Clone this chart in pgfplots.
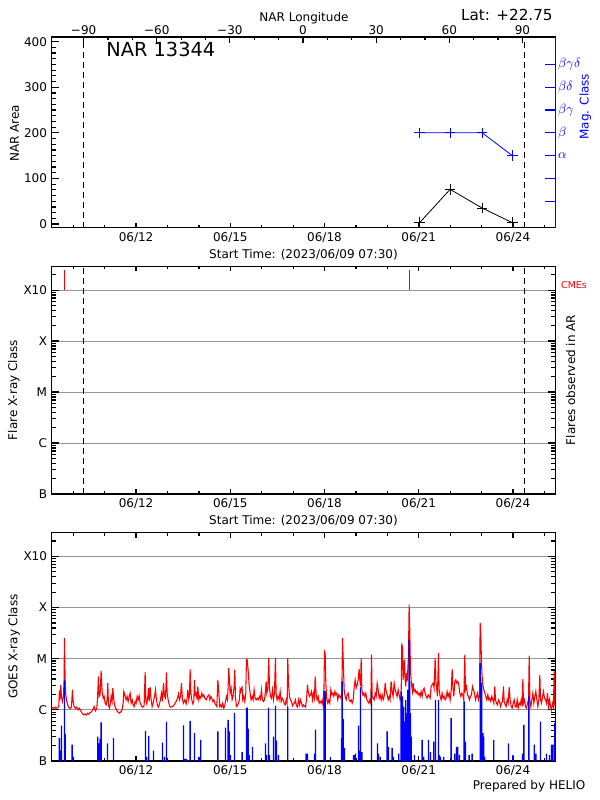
\documentclass[border=0pt]{standalone}
\usepackage{fontspec}
\setmainfont{DejaVu Sans}
\usepackage{pgfplots}
\pgfplotsset{compat=1.18}
\definecolor{gridgray}{RGB}{150,150,150}
\definecolor{pblue}{RGB}{0,0,255}
\definecolor{pred}{RGB}{255,0,0}
\newcommand{\tf}{\fontsize{9}{10.5}\selectfont}
\pgfplotsset{
  dayaxis/.style={
    scale only axis, width=377.7pt, xmin=0.3125, xmax=16.35,
    xtick={3,6,9,12,15}, xticklabels={06/12,06/15,06/18,06/21,06/24},
    minor xtick={1,2,4,5,7,8,10,11,13,14,16},
    tick align=inside,
    major tick length=4.2pt, minor tick length=2.4pt,
    axis line style={black, line width=0.8pt},
    tick style={black, line width=0.9pt},
    xtick style={/pgfplots/major tick length=3.6pt, /pgfplots/minor tick length=2.1pt},
    ytick style={/pgfplots/major tick length=5.4pt, /pgfplots/minor tick length=3.3pt},
    tick label style={font=\tf},
  },
  goesaxis/.style={
    ymin=0.1, ymax=2900,
    ytick={0.1,1,10,100,1000}, yticklabels={B,C,M,X,X10},
    minor ytick={0.2,0.3,0.4,0.5,0.6,0.7,0.8,0.9,2,3,4,5,6,7,8,9,20,30,40,50,60,70,80,90,200,300,400,500,600,700,800,900,2000},
    ymajorgrids, major grid style={gridgray, line width=0.75pt},
  },
}
\begin{document}
\begin{tikzpicture}
\path[use as bounding box] (0pt,0pt) rectangle (450pt,-600pt);

% ---------------- Panel 1 ----------------
\begin{axis}[dayaxis, at={(38.78pt,-170.63pt)}, anchor=south west, height=142.9pt,
  ymin=-7.7, ymax=410.3, ytick={0,100,200,300,400}, yticklabels={0,100,200,300,400},
  minor y tick num=7, xtick pos=bottom, ytick pos=left]
  \addplot[black, line width=0.75pt, dash pattern=on 4.5pt off 3pt] coordinates {(1.32,-7.7) (1.32,410.3)};
  \addplot[black, line width=0.75pt, dash pattern=on 4.5pt off 3pt] coordinates {(15.37,-7.7) (15.37,410.3)};
  \addplot[black, line width=0.6pt, mark=+, mark size=4pt, mark options={line width=0.75pt}] coordinates {(12.03,3) (13.0,76) (14.02,35) (14.98,3)};
\end{axis}
\begin{axis}[scale only axis, width=377.7pt, height=142.9pt, at={(38.78pt,-170.63pt)}, anchor=south west,
  xmin=-103.1, xmax=103.5, ymin=0, ymax=1,
  axis x line*=top, axis y line=none, tick align=inside,
  xtick={-90,-60,-30,0,30,60,90}, xticklabels={−90,−60,−30,0,30,60,90},
  minor x tick num=2, major tick length=4.2pt, minor tick length=2.4pt,
  axis line style={black, line width=0.8pt}, tick style={black, line width=0.9pt},
  xticklabel style={font=\tf, inner sep=2pt, yshift=-0.6pt}]
\end{axis}
\begin{axis}[scale only axis, width=377.7pt, height=142.9pt, at={(38.78pt,-170.63pt)}, anchor=south west,
  xmin=0.3125, xmax=16.35, ymin=-7.7, ymax=410.3,
  axis x line=none, axis y line*=right, tick align=inside,
  ytick={50,100,150,200,250,300,350},
  yticklabels={,,$\alpha$,$\beta$,$\beta\gamma$,$\beta\delta$,$\beta\gamma\delta$},
  major tick length=7.5pt,
  axis line style={pblue, line width=0.8pt}, tick style={pblue, line width=0.9pt},
  yticklabel style={pblue, font=\fontsize{10}{11}\selectfont, inner sep=2pt}]
  \addplot[pblue, line width=0.6pt, mark=+, mark size=4pt, mark options={line width=0.75pt}] coordinates {(12.03,200) (13.0,200) (14.02,200) (14.98,150)};
\end{axis}
\node[anchor=base west, font=\fontsize{14.5}{16}\selectfont] at (76.3pt,-42.5pt) {NAR 13344};
\node[anchor=east, font=\fontsize{11.4}{13}\selectfont] at (418pt,-11.5pt) {Lat: +22.75};
\node[anchor=base, font=\tf] at (228pt,-16.2pt) {NAR Longitude};
\node[rotate=90, font=\tf] at (11pt,-100pt) {NAR Area};
\node[rotate=90, font=\tf, text=pblue] at (439pt,-80pt) {Mag. Class};
\node[font=\tf] at (227.6pt,-191.3pt) {Start Time: (2023/06/09 07:30)};

% ---------------- Panel 2 ----------------
\begin{axis}[ymode=log, dayaxis, goesaxis, at={(38.78pt,-370.5pt)}, anchor=south west, height=170.6pt]
  \addplot[black, line width=0.75pt, dash pattern=on 4.5pt off 3pt] coordinates {(1.32,0.1) (1.32,2900)};
  \addplot[black, line width=0.75pt, dash pattern=on 4.5pt off 3pt] coordinates {(15.37,0.1) (15.37,2900)};
  \addplot[pred, line width=0.75pt] coordinates {(0.717,1000) (0.717,2470)};
  \addplot[pred, line width=0.75pt] coordinates {(11.70,1000) (11.70,2470)};
\end{axis}
\node[rotate=90, font=\tf] at (10.3pt,-292.5pt) {Flare X-ray Class};
\node[rotate=90, font=\tf] at (428pt,-285pt) {Flares observed in AR};
\node[font=\fontsize{7.1}{8}\selectfont, text=pred] at (430.5pt,-214pt) {CMEs};
\node[font=\tf] at (227.6pt,-390.8pt) {Start Time: (2023/06/09 07:30)};

% ---------------- Panel 3 ----------------
\begin{axis}[ymode=log, log origin y=infty, dayaxis, goesaxis, at={(38.78pt,-570.75pt)}, anchor=south west, height=171.2pt]
\addplot[pred, line width=0.8pt] table {
d v
0.325 1.13
0.367 1.06
0.410 1.13
0.452 1.05
0.495 1.11
0.537 1.16
0.558 2.39
0.580 1.57
0.601 3.09
0.622 1.83
0.654 1.46
0.686 1.83
0.707 3.87
0.718 25.4
0.739 4.17
0.760 1.97
0.792 1.46
0.824 1.25
0.856 1.13
0.898 1.06
0.941 1.13
0.973 2.47
0.994 1.46
1.026 1.16
1.068 1.06
1.111 1.13
1.153 1.00
1.196 1.08
1.238 0.96
1.281 0.86
1.323 0.80
1.366 0.83
1.408 0.79
1.451 0.86
1.493 0.82
1.536 0.89
1.578 0.91
1.620 1.00
1.663 1.16
1.705 0.96
1.748 1.08
1.769 1.57
1.801 4.50
1.822 1.83
1.854 1.97
1.886 5.82
1.918 2.29
1.950 1.69
1.982 1.83
2.013 1.35
2.045 1.25
2.077 1.57
2.098 3.33
2.120 1.25
2.151 1.08
2.183 1.35
2.205 1.83
2.236 1.46
2.258 2.66
2.290 1.57
2.321 1.20
2.353 1.08
2.385 0.97
2.428 0.90
2.470 0.86
2.513 0.91
2.555 1.00
2.587 1.35
2.608 2.29
2.640 1.97
2.682 1.57
2.714 1.83
2.746 1.46
2.778 1.83
2.810 2.12
2.842 1.35
2.874 1.57
2.906 1.25
2.937 1.16
2.969 1.46
3.001 1.35
3.033 1.83
3.065 1.57
3.097 1.88
3.129 1.35
3.171 1.20
3.214 1.13
3.256 1.20
3.288 5.48
3.309 1.57
3.341 1.31
3.373 1.83
3.394 2.66
3.415 1.46
3.447 2.78
3.479 1.57
3.511 1.16
3.543 1.35
3.575 1.69
3.596 1.97
3.617 2.47
3.649 1.57
3.681 1.20
3.713 1.13
3.744 1.31
3.776 1.57
3.808 2.12
3.840 1.46
3.872 3.33
3.904 1.83
3.936 1.69
3.967 5.39
3.989 2.12
4.021 1.57
4.063 1.20
4.106 1.13
4.148 1.16
4.191 1.20
4.233 1.31
4.275 1.46
4.318 1.69
4.350 2.06
4.382 1.57
4.414 1.83
4.445 3.33
4.477 1.57
4.509 1.35
4.552 1.57
4.594 1.31
4.626 1.69
4.647 2.47
4.679 1.57
4.700 1.97
4.721 6.27
4.743 2.12
4.775 1.57
4.806 1.31
4.838 1.46
4.859 3.87
4.881 1.97
4.913 2.12
4.944 1.57
4.966 2.87
4.997 1.57
5.029 1.83
5.061 1.69
5.093 2.12
5.125 1.83
5.157 1.97
5.189 1.69
5.231 1.57
5.274 1.83
5.316 1.97
5.348 1.57
5.380 1.83
5.412 1.69
5.444 1.46
5.475 1.57
5.507 1.35
5.539 1.25
5.571 1.16
5.603 3.87
5.665 1.16
5.696 1.25
5.728 1.13
5.760 1.35
5.792 1.08
5.824 1.20
5.856 1.57
5.877 1.83
5.909 1.57
5.930 2.78
5.951 6.56
5.973 3.87
5.994 2.12
6.026 2.66
6.058 1.57
6.089 1.83
6.121 2.87
6.143 6.09
6.164 1.83
6.196 1.16
6.227 1.20
6.259 1.35
6.291 1.57
6.312 2.54
6.334 2.29
6.355 2.66
6.376 2.78
6.397 1.57
6.429 1.83
6.461 1.46
6.493 2.12
6.514 9.85
6.535 9.85
6.567 6.09
6.599 3.09
6.631 2.12
6.663 1.57
6.695 1.83
6.727 1.57
6.758 2.47
6.790 1.69
6.822 1.57
6.854 1.69
6.886 1.57
6.928 1.83
6.960 1.62
6.992 2.47
7.024 1.57
7.056 1.46
7.088 1.57
7.120 2.29
7.141 3.60
7.162 2.12
7.194 2.66
7.226 10.3
7.247 2.66
7.279 1.83
7.311 1.69
7.343 2.47
7.374 1.57
7.406 2.12
7.438 10.3
7.459 2.12
7.491 1.57
7.523 1.83
7.555 1.57
7.587 2.29
7.619 1.46
7.651 1.69
7.682 1.57
7.714 1.35
7.746 1.25
7.778 1.57
7.810 1.31
7.831 10.3
7.852 3.33
7.884 1.83
7.916 1.57
7.948 1.46
7.980 1.20
8.012 1.31
8.043 1.35
8.075 1.57
8.107 1.20
8.139 1.13
8.171 1.57
8.203 1.25
8.235 1.57
8.267 1.35
8.298 1.16
8.330 1.25
8.362 1.20
8.394 1.13
8.426 1.57
8.458 3.09
8.490 2.12
8.521 1.83
8.553 1.97
8.585 2.29
8.617 1.57
8.649 2.12
8.681 1.69
8.702 4.50
8.734 1.97
8.766 1.57
8.798 1.83
8.829 1.35
8.861 1.46
8.893 1.35
8.925 1.57
8.957 1.20
8.978 1.57
8.999 13.9
9.021 12.9
9.042 3.33
9.074 1.57
9.106 1.35
9.137 1.57
9.169 1.35
9.201 2.47
9.233 1.97
9.265 2.12
9.297 1.83
9.329 2.29
9.360 1.97
9.392 2.12
9.424 1.57
9.456 1.97
9.488 1.83
9.520 1.69
9.552 2.12
9.573 25.4
9.594 10.3
9.626 2.47
9.658 1.83
9.690 1.57
9.721 1.97
9.753 2.12
9.785 1.57
9.817 1.46
9.849 1.57
9.881 1.35
9.913 1.57
9.944 2.78
9.976 3.87
10.008 2.66
10.040 3.09
10.072 3.87
10.104 6.27
10.125 3.87
10.146 2.87
10.167 10.3
10.189 2.47
10.221 1.97
10.252 2.12
10.284 1.83
10.316 2.12
10.348 1.57
10.380 1.46
10.412 1.35
10.444 1.57
10.475 1.35
10.497 12.0
10.518 1.83
10.550 1.69
10.582 1.57
10.614 2.12
10.646 1.83
10.677 3.33
10.709 2.47
10.741 1.69
10.773 1.97
10.805 1.57
10.836 1.97
10.868 1.57
10.900 1.83
10.932 3.33
10.964 2.29
10.996 1.97
11.028 1.57
11.060 1.83
11.089 1.57
11.121 3.60
11.153 2.29
11.185 1.83
11.217 3.33
11.249 2.47
11.280 2.12
11.312 1.83
11.344 2.47
11.376 1.97
11.408 1.57
11.440 1.83
11.461 18.8
11.482 17.4
11.503 3.87
11.525 6.09
11.546 9.55
11.567 3.87
11.588 2.87
11.610 5.24
11.631 3.60
11.652 6.09
11.673 11.1
11.695 114.5
11.716 34.4
11.737 6.09
11.758 3.87
11.780 2.87
11.801 2.29
11.822 3.33
11.854 2.29
11.886 2.47
11.918 2.12
11.950 2.29
11.981 1.97
12.013 2.12
12.045 1.83
12.077 2.29
12.109 1.83
12.141 2.47
12.172 2.66
12.204 2.12
12.236 1.83
12.268 1.69
12.300 1.97
12.332 1.83
12.364 1.69
12.395 2.87
12.427 3.09
12.459 3.33
12.491 2.66
12.523 10.3
12.544 3.87
12.565 2.87
12.597 1.83
12.629 12.9
12.650 2.47
12.682 1.83
12.714 1.57
12.746 2.12
12.778 1.69
12.810 1.83
12.842 1.57
12.873 1.69
12.905 2.29
12.937 1.83
12.969 2.12
13.001 1.57
13.033 2.29
13.065 6.27
13.086 2.87
13.118 1.83
13.150 3.60
13.181 3.87
13.213 3.33
13.245 3.60
13.277 3.09
13.309 2.12
13.341 1.83
13.373 2.12
13.404 1.97
13.436 1.57
13.468 12.0
13.489 2.47
13.521 2.87
13.553 1.97
13.585 1.83
13.617 1.57
13.649 1.83
13.680 1.97
13.712 2.87
13.744 2.47
13.776 2.12
13.808 1.57
13.840 1.83
13.872 2.12
13.904 1.57
13.935 1.83
13.957 50.0
13.978 31.9
13.999 8.2
14.020 4.50
14.042 3.09
14.073 2.47
14.105 2.12
14.137 1.83
14.169 1.57
14.201 1.97
14.233 1.57
14.265 1.69
14.296 1.46
14.328 1.83
14.360 1.57
14.392 1.35
14.424 2.87
14.445 1.57
14.477 1.35
14.509 1.25
14.541 1.57
14.573 1.46
14.604 1.16
14.636 1.35
14.668 1.46
14.700 2.87
14.721 1.46
14.753 1.25
14.785 1.16
14.817 1.57
14.849 1.35
14.881 2.78
14.913 1.57
14.944 1.16
14.976 1.08
15.008 1.35
15.040 1.57
15.072 1.16
15.104 1.13
15.136 1.57
15.167 1.08
15.199 1.35
15.231 1.25
15.263 1.57
15.295 1.16
15.316 3.99
15.337 1.35
15.369 1.57
15.401 1.16
15.433 1.08
15.465 1.35
15.497 1.57
15.518 11.5
15.539 1.57
15.571 1.16
15.603 1.57
15.635 2.12
15.667 1.35
15.698 1.83
15.730 2.29
15.762 1.57
15.794 1.16
15.826 1.57
15.858 4.85
15.879 1.57
15.911 1.35
15.943 1.83
15.975 2.29
16.006 1.69
16.038 1.57
16.070 1.35
16.102 2.12
16.134 1.16
16.166 1.57
16.198 1.16
16.229 1.00
16.261 1.35
16.290 1.16
16.314 5.80
16.336 1.35
16.350 1.08
};
\addplot[ybar, bar width=1pt, fill=pblue, draw=none] table {
d v
0.558 0.28
0.580 0.16
0.622 0.49
0.718 3.87
0.739 0.34
0.962 0.21
1.005 0.12
1.780 0.30
1.801 0.22
1.854 0.27
1.886 0.57
2.088 0.22
2.279 0.28
3.298 0.39
3.341 0.12
3.405 0.31
3.553 0.16
3.840 0.23
3.904 0.12
3.967 0.58
4.509 0.50
4.552 0.11
4.605 0.11
4.721 0.61
4.859 0.35
4.944 0.10
4.997 0.12
5.019 0.12
5.061 0.26
5.603 0.38
5.845 0.45
5.930 0.64
5.962 0.38
6.004 0.13
6.132 0.87
6.376 0.15
6.514 1.11
6.535 1.11
6.567 0.43
6.599 0.13
6.705 0.19
7.120 0.22
7.152 0.13
7.215 1.11
7.247 0.13
7.374 0.30
7.438 1.20
7.470 0.25
7.534 0.13
7.831 1.16
8.415 0.14
8.458 0.14
8.681 0.14
8.713 0.41
8.989 2.39
9.021 2.29
9.190 0.12
9.541 0.28
9.562 3.60
9.594 0.67
9.636 0.18
9.923 0.13
9.955 0.13
9.987 0.14
10.083 0.49
10.104 0.16
10.146 2.78
10.189 0.15
10.497 2.25
10.688 0.22
10.720 0.14
10.773 0.12
10.994 0.38
11.036 0.19
11.153 0.18
11.195 0.12
11.365 0.14
11.440 2.29
11.461 1.46
11.482 1.83
11.503 0.55
11.525 1.16
11.546 0.59
11.567 0.55
11.588 1.57
11.610 0.55
11.631 0.86
11.652 2.47
11.673 1.16
11.695 23.6
11.716 3.60
11.737 0.86
11.758 0.30
11.864 0.13
12.109 0.26
12.162 0.12
12.311 0.26
12.374 0.15
12.480 0.24
12.534 1.57
12.629 1.57
12.661 0.13
12.693 0.12
12.799 0.12
13.033 0.69
13.150 0.14
13.203 0.19
13.245 0.19
13.298 0.13
13.447 1.46
13.489 0.24
13.606 0.13
13.702 0.14
13.957 8.2
13.978 4.17
14.010 3.33
14.042 0.35
14.073 0.30
14.105 0.12
14.392 0.26
14.860 0.22
14.997 0.13
15.306 0.14
15.348 0.51
15.507 1.83
15.677 0.21
15.730 0.14
15.879 0.59
16.070 0.14
16.166 0.13
16.229 0.21
16.272 0.21
16.330 0.55
};
\end{axis}
\node[rotate=90, font=\tf] at (10.5pt,-485pt) {GOES X-ray Class};
\node[anchor=east, font=\tf] at (442.5pt,-590pt) {Prepared by HELIO};
\end{tikzpicture}
\end{document}
